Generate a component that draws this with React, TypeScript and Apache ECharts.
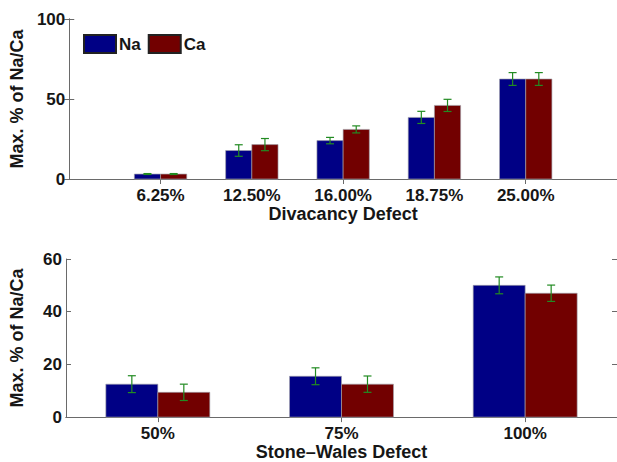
import React, { useEffect, useRef } from "react";
import * as echarts from "echarts";

const divCats = ["6.25%", "12.50%", "16.00%", "18.75%", "25.00%"];
const divNa = [3.1, 17.8, 24, 38.5, 62.5];
const divCa = [3.1, 21.5, 31, 46, 62.5];
const divNaErr = [0.3, 3.6, 2, 3.8, 4];
const divCaErr = [0.3, 3.8, 2.2, 3.8, 4];

const swCats = ["50%", "75%", "100%"];
const swNa = [12.5, 15.5, 50];
const swCa = [9.4, 12.5, 47];
const swNaErr = [3.2, 3.2, 3.2];
const swCaErr = [3.1, 3.1, 3.1];

const topTicks = [0, 50, 100];
const botTicks = [0, 20, 40, 60];

const NA_COLOR = "#000085";
const CA_COLOR = "#720000";
const ERR_COLOR = "#228B22";
const FONT = "Liberation Sans";
const TXT = "#161616";

export default function App() {
  const ref = useRef<HTMLDivElement>(null);
  useEffect(() => {
    if (!ref.current) return;
    const chart = echarts.init(ref.current, null, { renderer: "svg" });

    const barItem = (barW: number, side: number, color: string) =>
      (params: any, api: any) => {
        const x = api.value(0);
        const y = api.value(1);
        const base = api.coord([x, 0]);
        const top = api.coord([x, y]);
        const w = api.size([barW, 0])[0];
        const x0 = side < 0 ? base[0] - w : base[0];
        return {
          type: "rect",
          shape: { x: x0, y: top[1], width: w, height: base[1] - top[1] },
          style: { fill: color, stroke: "rgba(160,160,170,0.8)", lineWidth: 0.8 },
        };
      };

    const errItem = (barW: number, side: number) => (params: any, api: any) => {
      const x = api.value(0);
      const y = api.value(1);
      const e = api.value(2);
      const w = api.size([barW, 0])[0];
      const c = api.coord([x, y]);
      const cx = c[0] + (side < 0 ? -w / 2 : w / 2);
      const hi = api.coord([x, y + e])[1];
      const lo = api.coord([x, y - e])[1];
      const cap = 4;
      const st = { stroke: ERR_COLOR, lineWidth: 1.2 };
      return {
        type: "group",
        children: [
          { type: "line", shape: { x1: cx, y1: hi, x2: cx, y2: lo }, style: st },
          { type: "line", shape: { x1: cx - cap, y1: hi, x2: cx + cap, y2: hi }, style: st },
          { type: "line", shape: { x1: cx - cap, y1: lo, x2: cx + cap, y2: lo }, style: st },
        ],
      };
    };

    const axisLineStyle = { color: "#6a6a6a", width: 1 };
    const labelStyle = { fontFamily: FONT, fontWeight: "bold", fontSize: 17, color: TXT };
    const nameStyle = { fontFamily: FONT, fontWeight: "bold", fontSize: 18, color: TXT };

    const makeX = (gi: number, cats: string[], min: number, max: number, name: string, topTickVals: number[]) => [
      {
        type: "value",
        gridIndex: gi,
        min,
        max,
        position: "bottom",
        axisLine: { show: true, lineStyle: axisLineStyle },
        axisTick: { show: false },
        splitLine: { show: false },
        axisLabel: {
          ...labelStyle,
          margin: 8,
          customValues: cats.map((_, i) => i + 1),
          formatter: (v: number) => cats[Math.round(v) - 1] ?? "",
        },
        name,
        nameLocation: "middle",
        nameGap: gi === 0 ? 24 : 21,
        nameTextStyle: nameStyle,
      },
      {
        type: "value",
        gridIndex: gi,
        min,
        max,
        position: "top",
        axisLine: { show: true, lineStyle: axisLineStyle },
        axisTick: { show: true, inside: true, length: 5, lineStyle: axisLineStyle, customValues: topTickVals },
        axisLabel: { show: false },
        splitLine: { show: false },
      },
    ];

    const makeY = (gi: number, ticks: number[]) => {
      const interval = ticks[1] - ticks[0];
      return [
        {
          type: "value",
          gridIndex: gi,
          min: ticks[0],
          max: ticks[ticks.length - 1],
          interval,
          position: "left",
          axisLine: { show: true, lineStyle: axisLineStyle },
          axisTick: { show: true, inside: true, length: 5, lineStyle: axisLineStyle },
          splitLine: { show: false },
          axisLabel: { ...labelStyle, margin: 4 },
          name: "Max. % of Na/Ca",
          nameLocation: "middle",
          nameGap: 40,
          nameTextStyle: nameStyle,
        },
        {
          type: "value",
          gridIndex: gi,
          min: ticks[0],
          max: ticks[ticks.length - 1],
          interval,
          position: "right",
          axisLine: { show: true, lineStyle: axisLineStyle },
          axisTick: { show: true, inside: true, length: 5, lineStyle: axisLineStyle },
          splitLine: { show: false },
          axisLabel: { show: false },
        },
      ];
    };

    const topW = 0.287;
    const botW = 0.283;
    const pts = (vals: number[]) => vals.map((v, i) => [i + 1, v]);
    const errPts = (vals: number[], errs: number[]) => vals.map((v, i) => [i + 1, v, errs[i]]);

    const series: any[] = [
      { type: "custom", name: "Na", xAxisIndex: 0, yAxisIndex: 0, data: pts(divNa), itemStyle: { color: NA_COLOR, borderColor: "#222", borderWidth: 0.8 }, renderItem: barItem(topW, -1, NA_COLOR), z: 2 },
      { type: "custom", name: "Ca", xAxisIndex: 0, yAxisIndex: 0, data: pts(divCa), itemStyle: { color: CA_COLOR, borderColor: "#222", borderWidth: 0.8 }, renderItem: barItem(topW, 1, CA_COLOR), z: 2 },
      { type: "custom", name: "errNaTop", xAxisIndex: 0, yAxisIndex: 0, data: errPts(divNa, divNaErr), renderItem: errItem(topW, -1), z: 3 },
      { type: "custom", name: "errCaTop", xAxisIndex: 0, yAxisIndex: 0, data: errPts(divCa, divCaErr), renderItem: errItem(topW, 1), z: 3 },
      { type: "custom", name: "Na", xAxisIndex: 2, yAxisIndex: 2, data: pts(swNa), itemStyle: { color: NA_COLOR }, renderItem: barItem(botW, -1, NA_COLOR), z: 2 },
      { type: "custom", name: "Ca", xAxisIndex: 2, yAxisIndex: 2, data: pts(swCa), itemStyle: { color: CA_COLOR }, renderItem: barItem(botW, 1, CA_COLOR), z: 2 },
      { type: "custom", name: "errNaBot", xAxisIndex: 2, yAxisIndex: 2, data: errPts(swNa, swNaErr), renderItem: errItem(botW, -1), z: 3 },
      { type: "custom", name: "errCaBot", xAxisIndex: 2, yAxisIndex: 2, data: errPts(swCa, swCaErr), renderItem: errItem(botW, 1), z: 3 },
    ];

    chart.setOption({
      animation: false,
      backgroundColor: "#ffffff",
      grid: [
        { left: 66, top: 19, width: 554, height: 160 },
        { left: 66, top: 259, width: 554, height: 160 },
      ],
      legend: {
        data: ["Na", "Ca"],
        left: 78,
        top: 29,
        icon: "rect",
        itemWidth: 32,
        itemHeight: 18,
        itemGap: 7,
        textStyle: { fontFamily: FONT, fontWeight: "bold", fontSize: 17, color: TXT, padding: [0, 0, 0, -2] },
        selectedMode: false,
      },
      xAxis: [...makeX(0, divCats, 0, 6, "Divacancy Defect", [1, 3, 5]), ...makeX(1, swCats, 0.5, 3.5, "Stone\u2013Wales Defect", [1, 2, 3])],
      yAxis: [...makeY(0, topTicks), ...makeY(1, botTicks)],
      series,
    });
    return () => chart.dispose();
  }, []);
  return <div ref={ref} style={{ position: "fixed", left: 0, top: 0, width: 617, height: 462 }} />;
}
